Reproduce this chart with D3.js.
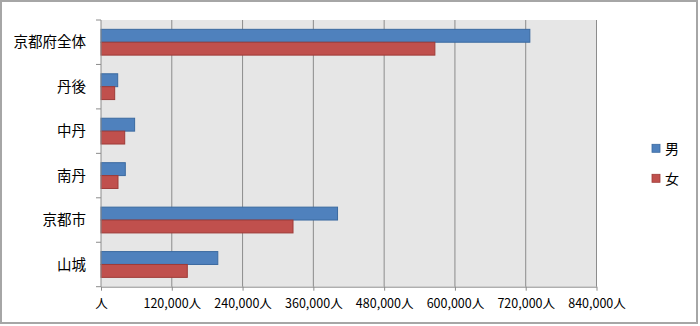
<!DOCTYPE html>
<html><head><meta charset="utf-8">
<script src="https://cdn.jsdelivr.net/npm/d3@7"></script>
<style>body{margin:0;background:#fff}svg{display:block}text{font-family:"Noto Sans CJK JP","Noto Sans",sans-serif;fill:#000}</style>
</head><body>
<svg id="c" width="700" height="326"></svg>
<script>
const categories = ["京都府全体","丹後","中丹","南丹","京都市","山城"];
const seriesNames = ["男","女"];
const male   = [727000, 28300, 57000, 41200, 401000, 198000];
const female = [566000, 23200, 40200, 28800, 325500, 146300];
const xTicks = [0,120000,240000,360000,480000,600000,720000,840000];
const colors = ["#4f81bd","#c0504d"];
const strokes = ["#3b6aa0","#9e3b38"];

const svg = d3.select("#c");
svg.append("rect").attr("x",1).attr("y",1).attr("width",696).attr("height",322)
  .attr("fill","#fff").attr("stroke","#a6a6a6").attr("stroke-width",2);

const L=101, R=596.5, T=20, B=286.7;
const x = d3.scaleLinear().domain([0,840000]).range([L,R]);
const y = d3.scaleBand().domain(categories).range([T,B]).paddingInner(0.42).paddingOuter(0.21);
const ys = d3.scaleBand().domain(seriesNames).range([0,y.bandwidth()]);

svg.append("rect").attr("x",L).attr("y",T).attr("width",R-L).attr("height",B-T).attr("fill","#e6e6e6");

svg.append("g").selectAll("line").data(xTicks.slice(1)).join("line")
  .attr("x1",d=>x(d)).attr("x2",d=>x(d)).attr("y1",T).attr("y2",B)
  .attr("stroke","#8c8c8c").attr("stroke-width",1);

const data = categories.map((c,i)=>({c, vals:[male[i],female[i]]}));
const g = svg.append("g");
data.forEach(d=>{
  d.vals.forEach((v,j)=>{
    g.append("rect").attr("x",x(0)).attr("y",y(d.c)+ys(seriesNames[j]))
      .attr("width",x(v)-x(0)).attr("height",ys.bandwidth())
      .attr("fill",colors[j]).attr("stroke",strokes[j]).attr("stroke-width",1);
  });
});

// x axis
const xa = svg.append("g").attr("transform",`translate(0,${B})`)
  .call(d3.axisBottom(x).tickValues(xTicks).tickSize(4).tickSizeOuter(0)
    .tickFormat(d=> d===0 ? "人" : d3.format(",")(d)+"人"));
xa.select(".domain").attr("stroke","#8c8c8c");
xa.selectAll(".tick line").attr("stroke","#8c8c8c");
xa.selectAll("text").attr("font-size",12.5).attr("dy","1.15em").attr("fill","#000");

// y axis
const yBounds = [T].concat(categories.map((c,i)=> T + (B-T)*(i+1)/categories.length));
svg.append("line").attr("x1",L).attr("x2",L).attr("y1",T).attr("y2",B).attr("stroke","#8c8c8c");
svg.append("g").selectAll("line").data(yBounds).join("line")
  .attr("x1",L-5).attr("x2",L).attr("y1",d=>d).attr("y2",d=>d).attr("stroke","#8c8c8c");
svg.append("g").selectAll("text").data(categories).join("text")
  .attr("x",86).attr("y",d=>y(d)+y.bandwidth()/2).attr("dy","0.35em")
  .attr("text-anchor","end").attr("font-size",14.5).text(d=>d);

// legend
const lg = svg.append("g");
seriesNames.forEach((s,i)=>{
  const yy = 144.3 + i*30;
  lg.append("rect").attr("x",652).attr("y",yy).attr("width",8).attr("height",8)
    .attr("fill",colors[i]).attr("stroke",strokes[i]).attr("stroke-width",0.8);
  lg.append("text").attr("x",665).attr("y",yy+4).attr("dy","0.38em").attr("font-size",14).text(s);
});
</script>
</body></html>
